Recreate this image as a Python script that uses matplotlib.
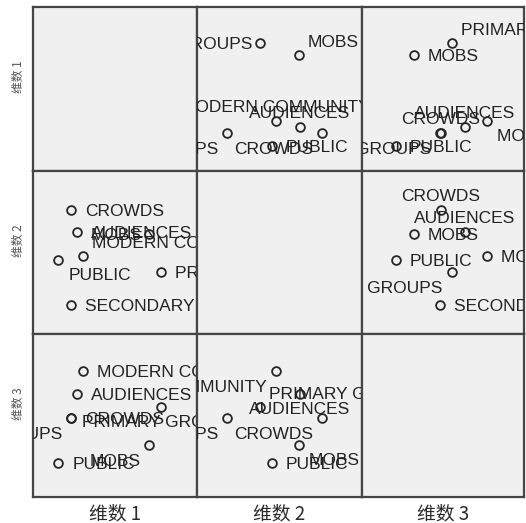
import matplotlib
matplotlib.use("Agg")
import matplotlib.pyplot as plt
from matplotlib.transforms import offset_copy

# ---- data (MDS object coordinates) ----
objects = ["AUDIENCES", "CROWDS", "MOBS", "MODERN COMMUNITY",
           "PRIMARY GROUPS", "PUBLIC", "SECONDARY GROUPS"]
dim1 = [-0.32, -0.41, 0.89, -0.21, 1.08, -0.63, -0.41]
dim2 = [0.34, 0.71, 0.32, -0.06, -0.32, -0.12, -0.87]
dim3 = [0.38, -0.02, -0.48, 0.76, 0.16, -0.78, -0.03]
dim_names = ["维数 1", "维数 2", "维数 3"]

# ---- styling / layout ----
dims = [dim1, dim2, dim3]
lims = [(-1.05, 1.683), (-1.363, 1.37), (-1.352, 1.381)]
W, H = 526, 523
col_edges = [33, 197, 362, 524]
row_edges = [7, 171, 334, 497]

# label placement codes per panel (row, col) -> per object
place = {
    (0, 1): dict(zip(objects, ["t", "bl", "tr", "t", "l", "r", "bl"])),
    (0, 2): dict(zip(objects, ["t", "t", "r", "br", "tr", "r", "bl"])),
    (1, 0): dict(zip(objects, ["r", "r", "l", "tr", "r", "br", "r"])),
    (1, 2): dict(zip(objects, ["t", "t", "r", "r", "bl", "r", "r"])),
    (2, 0): dict(zip(objects, ["r", "r", "bl", "r", "b", "r", "bl"])),
    (2, 1): dict(zip(objects, ["b", "bl", "br", "bl", "tr", "r", "bl"])),
}
# (dx, dy) in pixels (dy downward), horizontal alignment
offs = {
    "r": (14, 0, "left"), "l": (-8, 0, "right"),
    "t": (0, -15, "center"), "b": (0, 14, "center"),
    "tr": (9, -14, "left"), "tl": (-9, -14, "right"),
    "br": (10, 14, "left"), "bl": (-9, 15, "right"),
}

plt.rcParams['font.family'] = ['Liberation Sans', 'DejaVu Sans']
fig = plt.figure(figsize=(W / 100, H / 100), dpi=100)
fig.patch.set_facecolor("white")

label_fs = 12.5
cap_half = 6  # px, half cap height of labels
frame_col = "#454545"

for r in range(3):
    for c in range(3):
        x0, x1 = col_edges[c], col_edges[c + 1]
        y0, y1 = row_edges[r], row_edges[r + 1]
        ax = fig.add_axes([x0 / W, 1 - y1 / H, (x1 - x0) / W, (y1 - y0) / H])
        ax.set_facecolor("#f0f0f0")
        ax.set_xlim(*lims[c])
        ax.set_ylim(*lims[r])
        ax.set_xticks([])
        ax.set_yticks([])
        for s in ax.spines.values():
            s.set_color(frame_col)
            s.set_linewidth(1.6)
        if r == c:
            continue
        xs, ys = dims[c], dims[r]
        ax.plot(xs, ys, linestyle="none", marker="o", markersize=6.3,
                markerfacecolor="none", markeredgecolor="#262626",
                markeredgewidth=1.3, zorder=2, clip_on=True)
        pl = place[(r, c)]
        for name, xv, yv in zip(objects, xs, ys):
            dx, dy, ha = offs[pl[name]]
            tr = offset_copy(ax.transData, fig=fig, x=dx, y=-(dy + cap_half),
                             units="dots")
            ax.text(xv, yv, name, transform=tr, ha=ha, va="baseline",
                    fontsize=label_fs, color="#222222", clip_on=True, zorder=3)

# column titles (bottom) and row titles (left)
cjk = ['Noto Sans CJK SC', 'DejaVu Sans']
for c in range(3):
    xc = (col_edges[c] + col_edges[c + 1]) / 2
    fig.text(xc / W, 1 - 514 / H, dim_names[c], ha="center", va="center",
             fontsize=13.5, color="#2a2a2a", family=cjk)
for r in range(3):
    yc = (row_edges[r] + row_edges[r + 1]) / 2 - 12
    fig.text(18.5 / W, 1 - yc / H, dim_names[r], ha="center", va="center",
             rotation=90, fontsize=8.5, color="#555555", family=cjk)

fig.savefig("out.png", dpi=100, facecolor="white")
